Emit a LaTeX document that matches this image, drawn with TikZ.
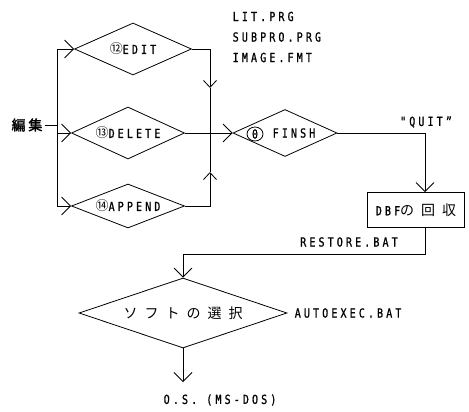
\documentclass[tikz,border=0pt]{standalone}
\usepackage{fontspec}
\usetikzlibrary{shapes.geometric,arrows.meta}
\newfontfamily\latf[FakeStretch=0.8,LetterSpace=25,FakeBold=1]{DejaVu Sans Mono}
\newfontfamily\jpf[LetterSpace=50]{Noto Sans CJK JP}
\newfontfamily\jpbf[FakeBold=2,LetterSpace=20]{Noto Sans CJK JP}
\newfontfamily\circf{Noto Sans CJK JP}
\begin{document}
\begin{tikzpicture}[x=1pt,y=-1pt,line width=0.8pt,
  every node/.style={font=\latf\fontsize{12.5}{15}\selectfont},
  dia/.style={diamond,draw,inner sep=1pt,shape aspect=2.5},
  arr/.style={-{Straight Barb[length=9pt,width=18pt]}},
  marr/.style={-{Straight Barb[length=7pt,width=13pt]}}]
\useasboundingbox (0,0) rectangle (469,412);
% diamonds
\node[dia,minimum width=117pt,minimum height=52pt] (edit) at (133,49) {{\circf\fontsize{13}{15}\selectfont ⑫}EDIT\hspace{22pt}};
\node[dia,minimum width=113pt,minimum height=52pt] (delete) at (128,133) {{\circf\fontsize{13}{15}\selectfont ⑬}DELETE};
\node[dia,minimum width=113pt,minimum height=44pt] (append) at (128,206) {{\circf\fontsize{13}{15}\selectfont ⑭}APPEND};
\node[dia,minimum width=104pt,minimum height=47pt] (finsh) at (285,133) {\hspace{18pt}FINSH};
\node[draw,ellipse,inner sep=0pt,minimum width=16pt,minimum height=14pt] (zero) at (255,134) {0};
\node[dia,minimum width=208pt,minimum height=70pt] (choice) at (183,313) {\jpf\fontsize{14}{16}\selectfont ソフトの選択};
\node[draw,minimum width=97pt,minimum height=35pt,inner sep=0pt] (dbf) at (416,210) {DBF{\jpf\fontsize{14}{16}\selectfont の回収}};
% labels
\node[font=\jpbf\fontsize{14}{16}\selectfont,inner sep=2pt] (hen) at (27,125) {編集};
\node[anchor=west,align=left,font=\latf\fontsize{12.5}{20.5}\selectfont] (files) at (229,37) {LIT.PRG\\SUBPRO.PRG\\IMAGE.FMT};
\node (quit) at (426,122) {"QUIT”};
\node (rest) at (349,242) {RESTORE.BAT};
\node[anchor=west,inner sep=0pt] (auto) at ([xshift=7pt]choice.east) {AUTOEXEC.BAT};
\node[anchor=west] (os) at (160,400) {O.S. (MS-DOS)};
% coordinates
\coordinate (lt) at (57,49);
\coordinate (lm) at (57,133);
\coordinate (lb) at (57,206);
\coordinate (rm) at (210,133);
\coordinate (rd) at (210,88);
\coordinate (ru) at (210,172);
\coordinate (qx) at (425,0);
\coordinate (osa) at (183,382);
% connectors
\draw (lt) -- (lb);
\draw (hen.east) -- (hen.east -| lt);
\draw[arr] (lt) -- (edit.west);
\draw[arr] (lm) -- (delete.west);
\draw[arr] (lb) -- (append.west);
\draw[marr] (edit.east) -| (rd);
\draw (rd) -- (rm);
\draw[marr] (append.east) -| (ru);
\draw (ru) -- (rm);
\draw[arr] (delete.east) -- (finsh.west);
\draw[arr] (finsh.east) -| (qx |- dbf.north);
\draw[arr] (qx |- dbf.south) -- ++(0,26) -| (choice.north);
\draw[arr] (choice.south) -- (osa);
\end{tikzpicture}
\end{document}
